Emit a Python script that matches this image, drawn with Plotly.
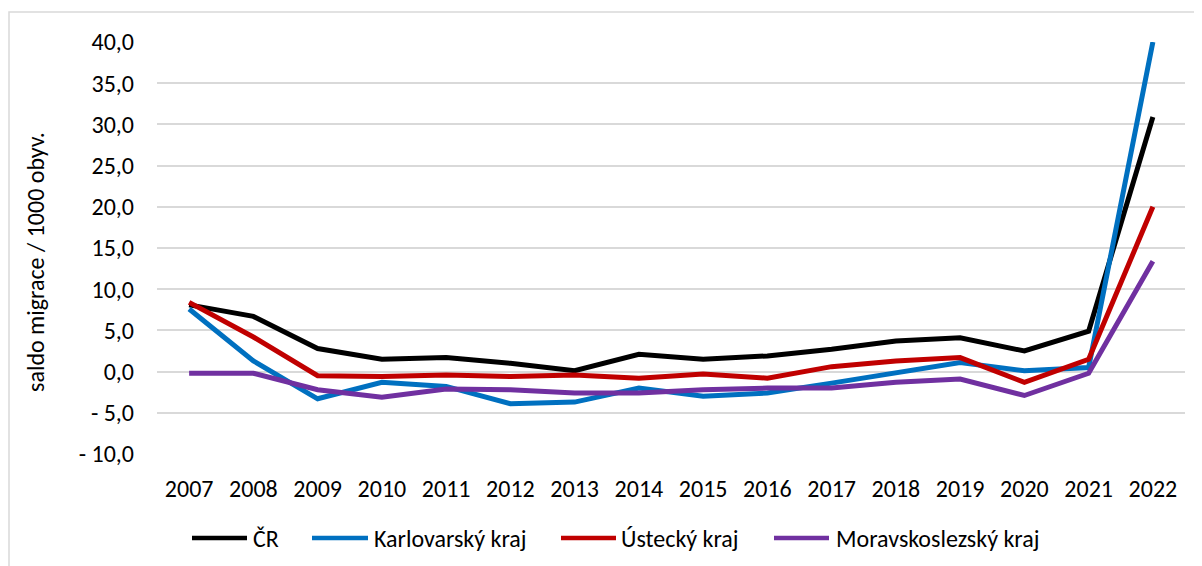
import plotly.graph_objects as go

years = [str(y) for y in range(2007, 2023)]
cr = [8.1, 6.7, 2.8, 1.5, 1.7, 1.0, 0.1, 2.1, 1.5, 1.9, 2.7, 3.7, 4.1, 2.5, 4.9, 30.9]
karlovarsky = [7.6, 1.3, -3.3, -1.3, -1.8, -3.9, -3.7, -2.0, -3.0, -2.6, -1.4, -0.2, 1.1, 0.1, 0.5, 40.0]
ustecky = [8.4, 4.2, -0.5, -0.6, -0.4, -0.6, -0.4, -0.8, -0.3, -0.8, 0.6, 1.3, 1.7, -1.3, 1.5, 20.0]
moravskoslezsky = [-0.2, -0.2, -2.2, -3.1, -2.1, -2.2, -2.6, -2.6, -2.2, -2.0, -2.0, -1.3, -0.9, -2.9, -0.2, 13.4]

series_names = ["ČR", "Karlovarský kraj", "Ústecký kraj", "Moravskoslezský kraj"]
series_colors = ["#000000", "#0070C0", "#C00000", "#7030A0"]
y_tick_vals = [-10, -5, 0, 5, 10, 15, 20, 25, 30, 35, 40]
y_tick_text = ["- 10,0", "- 5,0", "0,0", "5,0", "10,0", "15,0", "20,0", "25,0", "30,0", "35,0", "40,0"]
y_title = "saldo migrace / 1000 obyv."

FONT = "Carlito, Liberation Sans Narrow, Open Sans, sans-serif"
FS = 24

# figure is drawn at page offset (8, 8) because of the body margin
W, H = 1194, 558
L, R, T, B = 149, 17, 34, 112
pw, ph = W - L - R, H - T - B
OFF = 8

def fx(p):
    return (p - OFF - L) / pw

def fy(p):
    return (H - B - (p - OFF)) / ph

fig = go.Figure()
for name, vals, col in zip(series_names, [cr, karlovarsky, ustecky, moravskoslezsky], series_colors):
    fig.add_trace(go.Scatter(x=years, y=vals, mode="lines", name=name, showlegend=False,
                             line=dict(color=col, width=5), cliponaxis=True))

# outer chart border
fig.add_shape(type="rect", xref="paper", yref="paper",
              x0=fx(9), x1=fx(1215), y0=fy(12), y1=fy(580),
              line=dict(color="#D9D9D9", width=1.5), fillcolor="rgba(0,0,0,0)", layer="below")

# legend (line sample + label)
leg_line_x = [(192, 247), (312, 368), (561, 616), (774, 829)]
leg_text_x = [251, 372, 619, 834]
leg_y = 538
annotations = []
for (x0, x1), tx, name, col in zip(leg_line_x, leg_text_x, series_names, series_colors):
    fig.add_shape(type="line", xref="paper", yref="paper", x0=fx(x0), x1=fx(x1),
                  y0=fy(leg_y), y1=fy(leg_y), line=dict(color=col, width=4.5))
    annotations.append(dict(text=name, xref="paper", yref="paper", x=fx(tx), y=fy(leg_y),
                            xanchor="left", yanchor="middle", showarrow=False,
                            font=dict(size=FS, color="#000000")))

# y axis title
annotations.append(dict(text=y_title, xref="paper", yref="paper", x=fx(35), y=fy(262),
                        xanchor="center", yanchor="middle", textangle=-90, showarrow=False,
                        font=dict(size=FS, color="#000000")))

fig.update_layout(
    width=W, height=H,
    margin=dict(l=L, r=R, t=T, b=B, autoexpand=False),
    paper_bgcolor="white", plot_bgcolor="white",
    font=dict(family=FONT, size=FS, color="#000000"),
    showlegend=False,
    xaxis=dict(type="category", range=[-0.5, 15.5], showgrid=False, zeroline=False,
               showline=False, ticks="", ticklabelstandoff=18, tickfont=dict(size=FS)),
    yaxis=dict(range=[-10, 40], tickvals=y_tick_vals, ticktext=y_tick_text,
               showgrid=True, gridcolor="#D9D9D9", gridwidth=1.5, zeroline=False,
               showline=False, ticks="", ticklabelstandoff=22, tickfont=dict(size=FS)),
    annotations=annotations,
)

fig.write_html("out.html")
